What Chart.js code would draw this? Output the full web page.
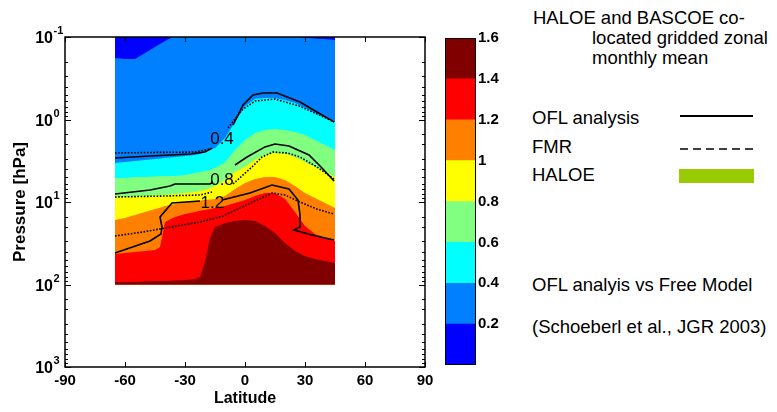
<!DOCTYPE html>
<html><head><meta charset="utf-8">
<script src="https://cdn.jsdelivr.net/npm/chart.js@4.4.1/dist/chart.umd.min.js"></script>
<style>
html,body{margin:0;padding:0;background:#fff;width:777px;height:412px;overflow:hidden;font-family:"Liberation Sans",Arial,sans-serif}
#main{position:absolute;left:0;top:0}
#cbar{position:absolute;left:430px;top:0}
.t{position:absolute;font-size:18.5px;line-height:20px;color:#000;white-space:nowrap}
svg{position:absolute;left:0;top:0}
</style></head><body>
<canvas id="main" width="440" height="412"></canvas>
<canvas id="cbar" width="100" height="412"></canvas>
<div class="t" style="left:533px;top:8px">HALOE and BASCOE co-</div>
<div class="t" style="left:592px;top:28px">located gridded zonal</div>
<div class="t" style="left:592px;top:48px">monthly mean</div>
<div class="t" style="left:532px;top:108px">OFL analysis</div>
<div class="t" style="left:532px;top:137px">FMR</div>
<div class="t" style="left:532px;top:165px">HALOE</div>
<div class="t" style="left:532px;top:275px">OFL analyis vs Free Model</div>
<div class="t" style="left:532px;top:317px">(Schoeberl et al., JGR 2003)</div>
<svg width="777" height="412">
  <line x1="680" y1="116" x2="753" y2="116" stroke="#000" stroke-width="2"/>
  <line x1="680" y1="149" x2="753" y2="149" stroke="#000" stroke-width="1.5" stroke-dasharray="8 5"/>
  <rect x="679" y="169" width="75" height="14" fill="#99cc00"/>
</svg>
<script>
// ---- data (latitude in degrees, pressure in hPa) ----
const gridLat = [-65,-60,-55,-50,-45,-42.5,-40,-35,-30,-25,-22.5,-20,-17.5,-15,-10,-5,0,5,10,15,20,25,30,35,40,45];
const pTop = 0.1;
const pBottom = 100;
// pressure of each filled-contour boundary at gridLat (value increases downward)
const p02 = [0.18,0.185,0.185,0.156,0.132,0.122,0.112,0.096,0.08,0.08,0.08,0.08,0.08,0.08,0.08,0.08,0.08,0.08,0.08,0.08,0.08,0.099,0.102,0.104,0.106,0.109];
const p04 = [3.37,3.27,3.18,3.10,3.01,2.97,2.93,2.85,2.77,2.69,2.62,2.48,2.34,2.22,1.68,1.07,0.69,0.565,0.548,0.548,0.58,0.63,0.726,0.834,0.946,1.07];
const p06 = [5.12,5.12,4.97,4.97,4.91,4.84,4.84,4.84,4.70,4.45,4.33,4.21,4.09,3.87,3.27,2.34,1.77,1.46,1.34,1.30,1.34,1.42,1.54,1.77,2.04,2.34];
const p08 = [8.70,8.70,8.58,8.46,8.34,8.23,8.23,8.0,7.78,7.57,7.36,7.16,6.77,6.40,5.41,4.33,3.76,3.10,2.69,2.55,2.62,2.85,3.27,3.76,4.33,4.97];
const p10 = [16.5,15.6,14.4,13.2,12.2,11.7,11.2,10.6,10.0,9.72,9.59,9.46,9.33,9.20,8.46,6.96,5.88,5.26,4.97,4.97,5.41,6.40,7.78,8.95,10.3,11.8];
const p12 = [42.7,41.5,40.4,39.3,38.2,35.1,17.5,15.2,14.0,13.2,12.8,12.5,12.2,11.8,11.2,10.3,9.46,8.46,7.78,7.78,9.20,13.2,19.5,24.4,27.3,29.7];
const p14 = [93.3,93.3,93.3,92.0,90.7,90.7,90.7,89.4,88.1,85.7,81.0,52.7,27.3,20.1,18.0,17.0,16.5,17.0,19.5,23.8,31.4,39.3,45.1,49.1,51.9,54.9];
const levels = [0,0.2,0.4,0.6,0.8,1.0,1.2,1.4,1.6];
const levelColors = ['#0000ff','#0080ff','#00ffff','#80ff80','#ffff00','#ff8000','#ff0000','#800000'];

// contour lines (OFL analysis solid, FMR dotted); null = gap for label
const ofl04Lat = [-65,-47.5,-27.5,-20,-16.5,-11,-6,-1,4,9,16,27.5,36,44.5];
const ofl04P   = [2.93,2.77,2.62,2.48,2.22,null,1.17,0.667,0.505,0.477,0.477,0.614,0.811,1.07];
const fmr04Lat = [-65,-47.5,-25,-17.5,-13,-8.5,-1.5,5,15,27,36,44.5];
const fmr04P   = [2.55,2.51,2.48,2.28,null,1.27,0.767,0.597,0.565,0.686,0.857,1.07];
const ofl08Lat = [-65,-47.5,-37.5,-35,-17.5,-16,-10,-5,1,10,15,22,32,38.5,44.5];
const ofl08P   = [8.0,7.16,6.40,6.05,6.05,5.72,null,3.56,2.85,2.15,1.98,2.09,2.69,3.87,5.56];
const fmr08Lat = [-65,-40,-22.5,-16.5,-11,-6,3.5,8.5,14,21.5,27.5,36,44.5];
const fmr08P   = [8.70,8.46,8.23,7.57,null,6.05,3.76,2.85,2.48,2.55,2.85,3.76,5.26];
const ofl12Lat = [-65,-47.5,-42,-41.5,-42.5,-36.5,-22.5,-17,-11.5,2.5,13.5,22,26.5,27.5,27.5,24.5,33.5,44.5];
const ofl12P   = [41.5,29.7,24.4,20.1,15.2,10.3,9.72,null,9.46,7.78,6.22,6.96,9.46,14.4,20.1,21.9,25.1,28.9];
const fmr12Lat = [-65,-51,-40,-22.5,-11,-2.5,6,13.5,20,27.5,36,44.5];
const fmr12P   = [25.8,23.1,20.7,17.5,14.8,11.8,9.46,7.78,8.23,10.0,12.2,14.0];

const labelText = ['0.4','0.8','1.2'];
const labelLat  = [-11.5,-11.5,-16.3];
const labelP    = [1.72,5.41,10.4];

const xTicks = [-90,-60,-30,0,30,60,90];
const FONT = '"Liberation Sans", Arial, sans-serif';

// ---- build datasets ----
const toPts = (lats, ps) => lats.map((x, i) => ({x, y: ps[i]}));
const boundaries = [gridLat.map(() => pTop), p02, p04, p06, p08, p10, p12, p14];
const datasets = boundaries.map((ps, i) => ({
  data: toPts(gridLat, ps),
  backgroundColor: levelColors[i],
  borderColor: 'rgba(0,0,0,0)',
  borderWidth: 0,
  pointRadius: 0,
  fill: {value: pBottom},
  order: 100 - i
}));
const lines = [
  [ofl04Lat, ofl04P, false], [fmr04Lat, fmr04P, true],
  [ofl08Lat, ofl08P, false], [fmr08Lat, fmr08P, true],
  [ofl12Lat, ofl12P, false], [fmr12Lat, fmr12P, true]
];
lines.forEach(([la, pa, dotted], i) => datasets.push({
  data: toPts(la, pa),
  borderColor: '#000',
  borderWidth: 1.6,
  borderDash: dotted ? [1.6, 1.6] : [],
  pointRadius: 0,
  fill: false,
  spanGaps: false,
  order: 10 - i
}));

const isDecade = v => { const l = Math.log10(v); return Math.abs(l - Math.round(l)) < 1e-6; };

const frame = {
  id: 'frame',
  afterDatasetsDraw(chart) {
    const {ctx, chartArea: a, scales: {x, y}} = chart;
    ctx.save();
    // contour labels
    ctx.fillStyle = '#000';
    ctx.font = '17px ' + FONT;
    ctx.textAlign = 'center';
    ctx.textBaseline = 'middle';
    labelText.forEach((t, i) => ctx.fillText(t, x.getPixelForValue(labelLat[i]), y.getPixelForValue(labelP[i])));
    // box and inward ticks
    ctx.strokeStyle = '#000';
    ctx.lineWidth = 1;
    ctx.beginPath();
    y.ticks.forEach(tk => {
      const py = Math.round(y.getPixelForValue(tk.value)) + 0.5;
      const L = isDecade(tk.value) ? 6 : 3;
      ctx.moveTo(a.left, py); ctx.lineTo(a.left + L, py);
      ctx.moveTo(a.right, py); ctx.lineTo(a.right - L, py);
    });
    x.ticks.forEach(tk => {
      const px = Math.round(x.getPixelForValue(tk.value)) + 0.5;
      ctx.moveTo(px, a.bottom); ctx.lineTo(px, a.bottom - 5);
      ctx.moveTo(px, a.top); ctx.lineTo(px, a.top + 5);
    });
    ctx.stroke();
    ctx.lineWidth = 1.5;
    ctx.strokeRect(a.left, a.top, a.right - a.left, a.bottom - a.top);
    // y tick labels as 10 with superscript exponent
    y.ticks.forEach(tk => {
      if (!isDecade(tk.value)) return;
      const e = Math.round(Math.log10(tk.value));
      const py = y.getPixelForValue(tk.value);
      const xr = a.left - 12;
      ctx.font = 'bold 16px ' + FONT;
      ctx.textAlign = 'right'; ctx.textBaseline = 'middle';
      ctx.fillText('10', xr, py + 2);
      ctx.font = 'bold 11px ' + FONT;
      ctx.textAlign = 'left'; ctx.textBaseline = 'alphabetic';
      ctx.fillText(String(e), xr + 0.5, py - 3);
    });
    ctx.restore();
  }
};

new Chart(document.getElementById('main'), {
  type: 'line',
  data: {datasets},
  plugins: [frame],
  options: {
    responsive: false, animation: false, events: [],
    layout: {padding: {left: 0, right: 15, top: 37, bottom: 0}},
    plugins: {legend: {display: false}, tooltip: {enabled: false}},
    elements: {line: {tension: 0}},
    scales: {
      x: {
        type: 'linear', min: -90, max: 90,
        afterFit(s) { s.height = 45; },
        afterBuildTicks(s) { s.ticks = xTicks.map(v => ({value: v})); },
        grid: {display: false, drawTicks: false}, border: {display: false},
        ticks: {padding: 5, color: '#000', maxRotation: 0, autoSkip: false, font: {family: FONT, size: 15, weight: 'bold'}},
        title: {display: true, text: 'Latitude', color: '#000', padding: {top: 0, bottom: 4}, font: {family: FONT, size: 16, weight: 'bold'}}
      },
      y: {
        type: 'logarithmic', min: 0.1, max: 1000, reverse: true,
        afterFit(s) { s.width = 65; },
        grid: {display: false, drawTicks: false}, border: {display: false},
        ticks: {autoSkip: false, color: '#000', callback() { return ''; }},
        title: {display: true, text: 'Pressure [hPa]', color: '#000', padding: {top: 10, bottom: 0}, font: {family: FONT, size: 17, weight: 'bold'}}
      }
    }
  }
});

// ---- colour bar ----
const cbBox = {
  id: 'cbBox',
  afterDatasetsDraw(chart) {
    const {ctx, chartArea: a} = chart;
    ctx.save(); ctx.strokeStyle = '#000'; ctx.lineWidth = 1;
    ctx.strokeRect(a.left + 0.5, a.top + 0.5, a.right - a.left - 1, a.bottom - a.top - 1);
    ctx.restore();
  }
};
new Chart(document.getElementById('cbar'), {
  type: 'bar',
  data: {
    labels: [''],
    datasets: levelColors.map((c, i) => ({
      data: [[levels[i], levels[i + 1]]],
      backgroundColor: c, borderWidth: 0, barPercentage: 1, categoryPercentage: 1
    }))
  },
  plugins: [cbBox],
  options: {
    responsive: false, animation: false, events: [],
    layout: {padding: {left: 15, right: 0, top: 38, bottom: 47}},
    plugins: {legend: {display: false}, tooltip: {enabled: false}},
    scales: {
      x: {display: false, stacked: true},
      y: {
        position: 'right', min: levels[0], max: levels[levels.length - 1],
        afterFit(s) { s.width = 54; },
        afterBuildTicks(s) { s.ticks = levels.map(v => ({value: v})); },
        grid: {display: false, drawTicks: false}, border: {display: false},
        ticks: {padding: 2, color: '#000', font: {family: FONT, size: 15, weight: 'bold'},
          callback(v) { return v === 0 ? '' : String(Number(v.toFixed(1))); }}
      }
    }
  }
});
</script>
</body></html>
